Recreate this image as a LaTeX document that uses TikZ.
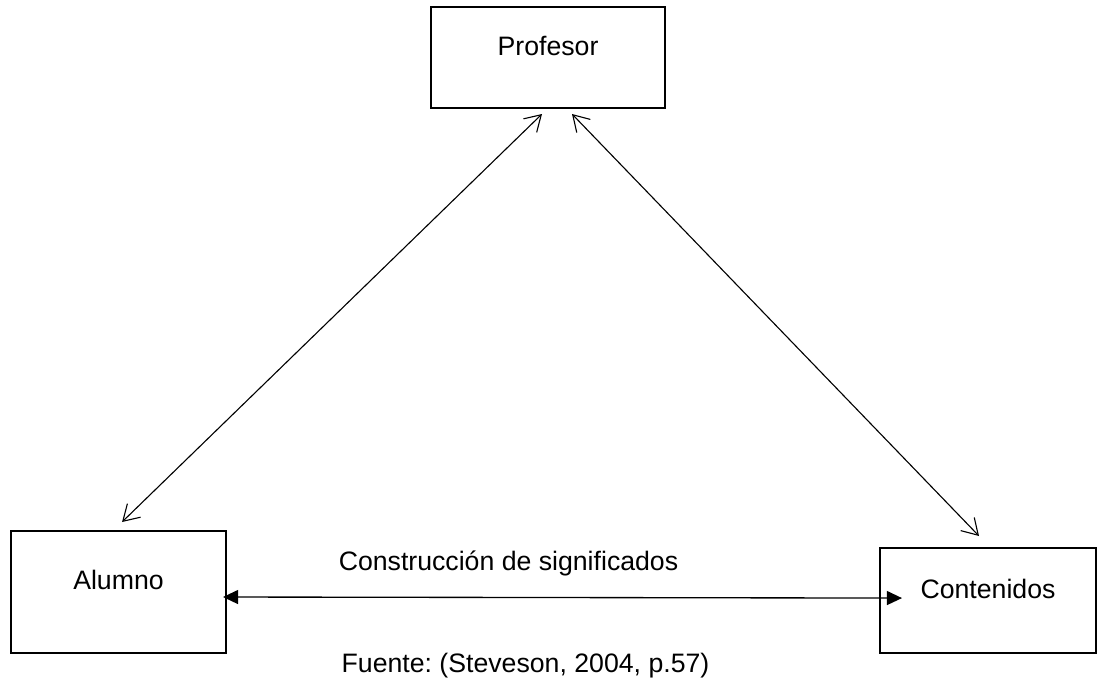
\documentclass[tikz,border=0pt]{standalone}
\usepackage{fontspec}
\setmainfont{Liberation Sans}
\usetikzlibrary{arrows.meta}
\frenchspacing

\tikzset{
  box/.style={draw, line width=0.9pt, text height=0pt, text depth=2pt, inner sep=0pt},
  dia/.style={line width=0.5pt, {Straight Barb[length=7pt,width=8.5pt]}-{Straight Barb[length=7pt,width=8.5pt]}},
  hor/.style={line width=0.6pt, {Triangle[length=6.8pt,width=6.3pt]}-{Triangle[length=6.8pt,width=6.3pt]}}
}

\begin{document}
\begin{tikzpicture}[x=0.45pt, y=-0.45pt, font=\fontsize{12}{14}\selectfont]
        \useasboundingbox (0, 0) rectangle (1098, 678);
        \node (PR) [box, minimum width=105.3pt, minimum height=45.45pt] at (548, 57.5) {Profesor};
        \node (AL) [box, minimum width=96.75pt, minimum height=54.9pt] at (118.5, 592) {Alumno};
        \node (CO) [box, minimum width=97.2pt, minimum height=47.25pt] at (988, 600.5) {Contenidos};
        \node (CS) [anchor=base] at (508.5, 570) {Construcción de significados};
        \node (FU) [anchor=base] at (525.5, 672) {Fuente: (Steveson, 2004, p.57)};
        \draw [dia] ([xshift=1.6pt, yshift=3.6pt]AL.north) -- ([xshift=-2.7pt, yshift=-2.25pt]PR.south);
        \draw [dia] ([xshift=10.8pt, yshift=-2.25pt]PR.south) -- ([xshift=-4.05pt, yshift=4.95pt]CO.north);
        \draw [hor] ([xshift=-1.8pt, yshift=-2.25pt]AL.east) -- ([xshift=10.35pt, yshift=1.1pt]CO.west);
\end{tikzpicture}
\end{document}
